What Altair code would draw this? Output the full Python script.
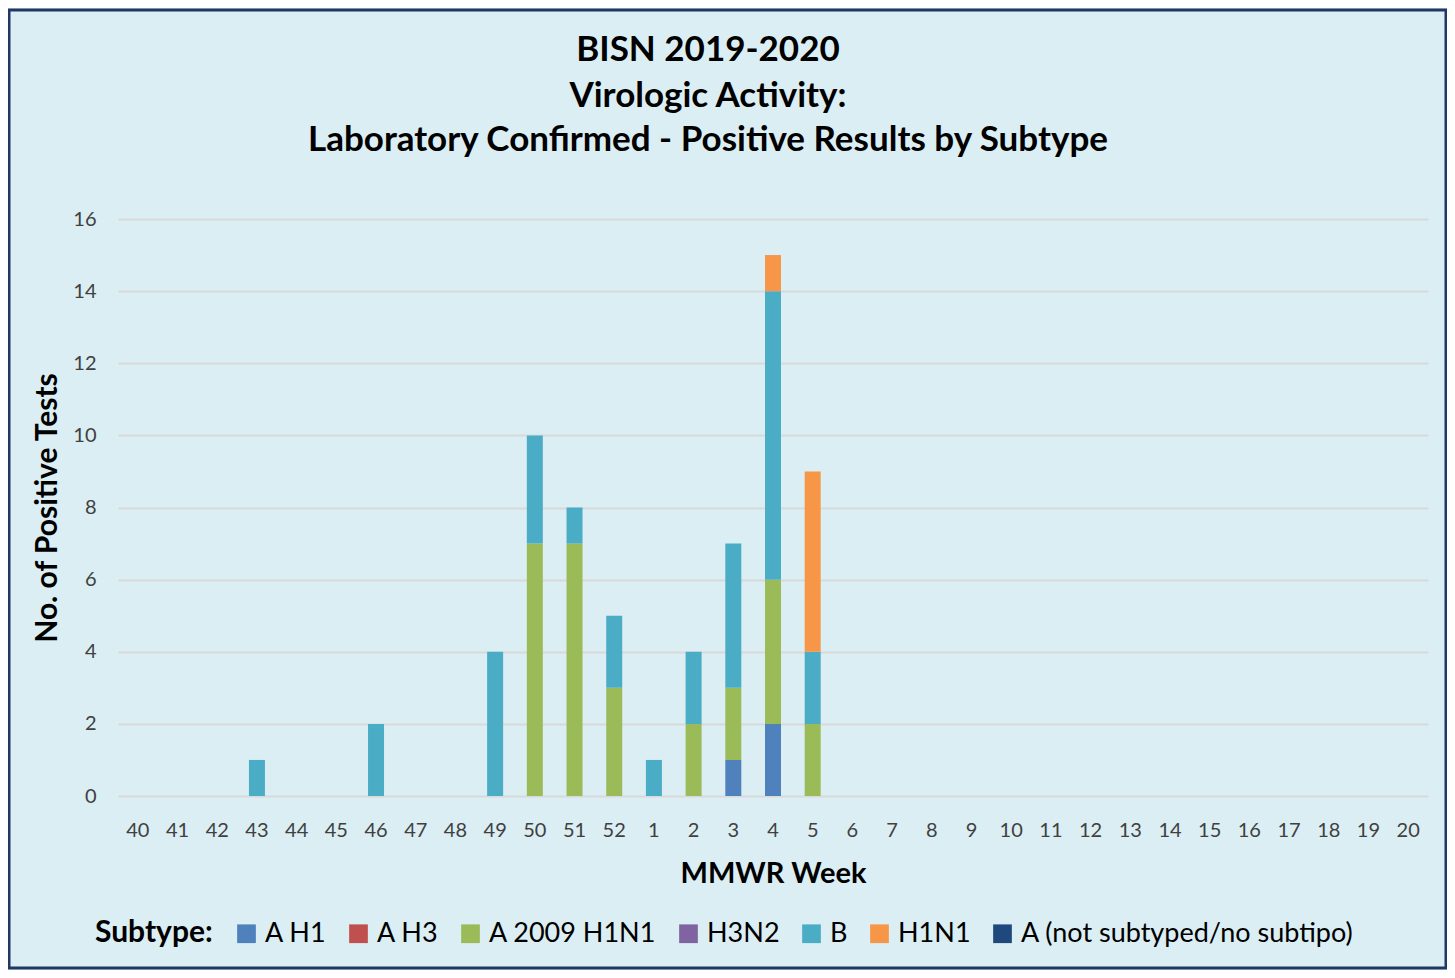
import altair as alt
import pandas as pd

weeks = ["40", "41", "42", "43", "44", "45", "46", "47", "48", "49", "50", "51", "52",
         "1", "2", "3", "4", "5", "6", "7", "8", "9", "10", "11", "12", "13", "14",
         "15", "16", "17", "18", "19", "20"]
subtypes = ["A H1", "A H3", "A 2009 H1N1", "H3N2", "B", "H1N1", "A (not subtyped/no subtipo)"]
colors = ["#4F81BD", "#C0504D", "#9BBB59", "#8064A2", "#4BACC6", "#F79646", "#1F497D"]
title_lines = ["BISN 2019-2020", "Virologic Activity:", "Laboratory Confirmed - Positive Results by Subtype"]

a_h1 = {"3": 1, "4": 2}
a_h3 = {}
a_2009 = {"50": 7, "51": 7, "52": 3, "2": 2, "3": 2, "4": 4, "5": 2}
h3n2 = {}
b = {"43": 1, "46": 2, "49": 4, "50": 3, "51": 1, "52": 2, "1": 1, "2": 2, "3": 4, "4": 8, "5": 2}
h1n1 = {"4": 1, "5": 5}
a_ns = {}

series = [a_h1, a_h3, a_2009, h3n2, b, h1n1, a_ns]
rows = []
for i, (name, s) in enumerate(zip(subtypes, series)):
    for w in weeks:
        v = s.get(w, 0)
        if v:
            rows.append({"week": w, "subtype": name, "value": v, "order": i})
df = pd.DataFrame(rows)

FONT = "Lato"
W, H = 1310, 577

bars = alt.Chart(df).mark_bar(size=16).encode(
    x=alt.X("week:N", sort=weeks, scale=alt.Scale(domain=weeks, paddingInner=0.6, paddingOuter=0.3),
            axis=alt.Axis(title="MMWR Week", labelAngle=0, ticks=False, domain=False, grid=False,
                          labelFontSize=20, labelColor="#404040", labelPadding=24,
                          titleFontSize=29, titleFontWeight="bold", titleColor="#000000",
                          titlePadding=19)),
    y=alt.Y("sum(value):Q", scale=alt.Scale(domain=[0, 16]),
            axis=alt.Axis(title="No. of  Positive Tests", values=list(range(0, 17, 2)), ticks=False,
                          domain=False, gridColor="#D9D9D9", gridWidth=2, labelFontSize=20,
                          labelColor="#404040", labelPadding=22, titleFontSize=30,
                          titleFontWeight="bold", titleColor="#000000", titlePadding=10)),
    color=alt.Color("subtype:N", scale=alt.Scale(domain=subtypes, range=colors),
                    legend=alt.Legend(title="Subtype:", orient="none", direction="horizontal",
                                      legendX=-23, legendY=701, titleOrient="left",
                                      titleFontSize=30, titleFontWeight="bold", titleColor="#000000",
                                      titlePadding=20, labelFontSize=27, labelColor="#000000",
                                      labelLimit=600, symbolType="square", symbolSize=350,
                                      symbolStrokeWidth=0, labelOffset=5, columnPadding=18,
                                      columns=7)),
    order=alt.Order("order:Q", sort="ascending"),
)

one = pd.DataFrame({"k": [0]})
frame = alt.Chart(one).mark_rect(
    fill=None, stroke="#1F3864", strokeWidth=3
).encode(x=alt.value(-109), x2=alt.value(W + 18), y=alt.value(-209), y2=alt.value(H + 172))

title_y = [-169, -123, -79]
titles = [
    alt.Chart(one).mark_text(text=t, font=FONT, fontSize=35, fontWeight="bold", color="#000000",
                             align="center", baseline="middle").encode(x=alt.value(590), y=alt.value(yy))
    for t, yy in zip(title_lines, title_y)
]

chart = alt.layer(bars, frame, *titles).properties(
    width=W, height=H,
    autosize=alt.AutoSizeParams(type="none"),
    padding={"left": 110, "top": 211, "right": 19, "bottom": 174},
    background="#DBEEF3",
).configure(font=FONT).configure_view(stroke=None)

chart.save("out.html", embed_options={"renderer": "svg", "actions": False})
